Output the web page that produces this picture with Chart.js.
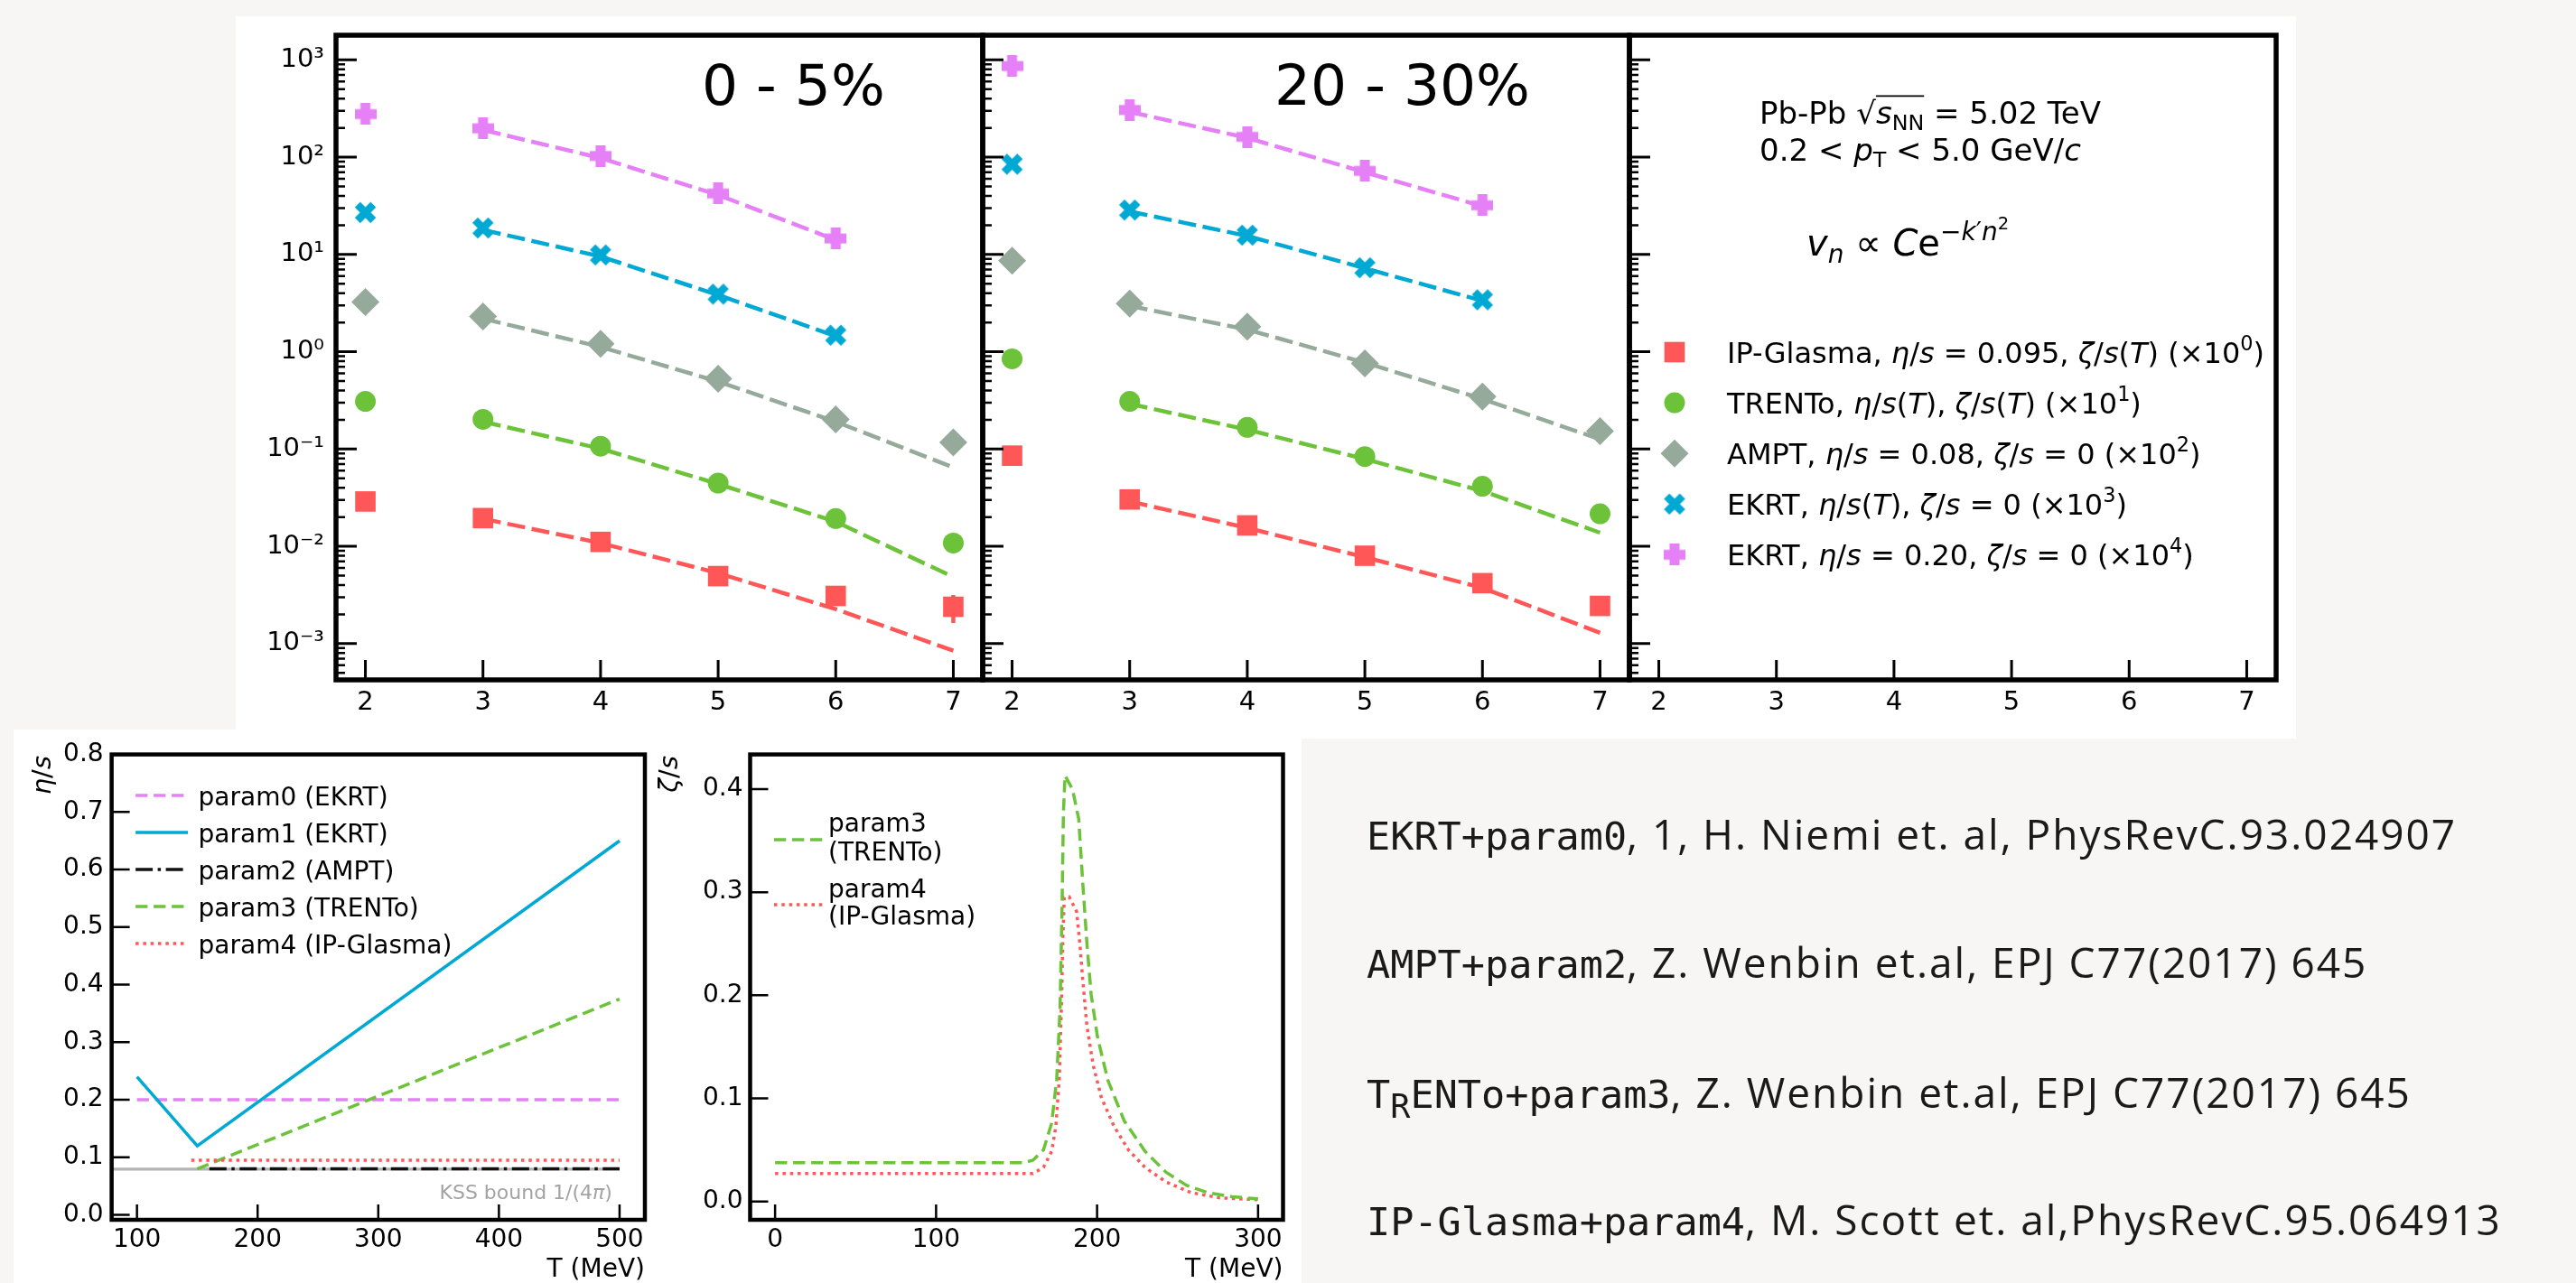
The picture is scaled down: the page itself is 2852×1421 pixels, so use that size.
<!DOCTYPE html>
<html>
<head>
<meta charset="UTF-8">
<title>vn vs n, eta/s and zeta/s</title>
<script src="https://cdn.jsdelivr.net/npm/chart.js"></script>
<style>
  body { margin: 0; width: 2852px; height: 1421px; background: #f7f6f4; position: relative; overflow: hidden; }
  .card { position: absolute; background: #fff; }
  canvas { position: absolute; left: 0; top: 0; }
  .ref { position: absolute; left: 1513px; font-family: 'Open Sans', sans-serif; font-size: 46px; line-height: 46px; letter-spacing: 2px; color: #1a1a1a; white-space: nowrap; }
  .ref code { font-family: 'DejaVu Sans Mono', monospace; font-size: 43.5px; letter-spacing: 0; }
  .ref sub { font-size: 0.85em; vertical-align: -0.3em; line-height: 0; }
</style>
</head>
<body>
<div class="card" style="left:261px; top:18px; width:2281px; height:800px"></div>
<div class="card" style="left:15px; top:808px; width:1426px; height:613px"></div>
<canvas id="p1" width="2852" height="1421"></canvas>
<canvas id="p2" width="2852" height="1421"></canvas>
<canvas id="p3" width="2852" height="1421"></canvas>
<canvas id="eta" width="2852" height="1421"></canvas>
<canvas id="zeta" width="2852" height="1421"></canvas>

<div class="ref" style="top:900px"><code>EKRT+param0</code>, 1, H. Niemi et. al, PhysRevC.93.024907</div>
<div class="ref" style="top:1042px"><code>AMPT+param2</code>, Z. Wenbin et.al, EPJ C77(2017) 645</div>
<div class="ref" style="top:1186px"><code>T<sub>R</sub>ENTo+param3</code>, Z. Wenbin et.al, EPJ C77(2017) 645</div>
<div class="ref" style="top:1327px"><code>IP-Glasma+param4</code>, M. Scott et. al,PhysRevC.95.064913</div>

<script>
// ---------- data: vn (scaled) vs harmonic n ----------
const harmonics = [2, 3, 4, 5, 6, 7];
const fitHarmonics = [3, 4, 5, 6, 7];
const xTicksTop = [2, 3, 4, 5, 6, 7];
const yDecades = [1e-3, 1e-2, 1e-1, 1e0, 1e1, 1e2, 1e3];
const yDecadeLabels = ['10⁻³', '10⁻²', '10⁻¹', '10⁰', '10¹', '10²', '10³'];

// 0 - 5 %
const ipg05 = [0.0289, 0.0195, 0.0111, 0.00494, 0.00309, 0.00239];
const trento05 = [0.309, 0.202, 0.107, 0.0447, 0.0193, 0.0108];
const ampt05 = [3.24, 2.31, 1.21, 0.528, 0.202, 0.117];
const ekrtT05 = [27.0, 18.7, 9.9, 3.91, 1.48];
const ekrt20_05 = [277, 198, 103, 42.3, 14.6];
const ipg05Fit = [0.0192, 0.0108, 0.0053, 0.00226, 0.000847];
const trento05Fit = [0.191, 0.101, 0.0437, 0.0179, 0.00484];
const ampt05Fit = [2.19, 1.12, 0.494, 0.191, 0.0647];
const ekrtT05Fit = [17.9, 9.55, 3.83, 1.45];
const ekrt20_05Fit = [191, 97.8, 40.9, 14.1];
const ipg05ErrN = [7];
const ipg05ErrLo = [0.00163];
const ipg05ErrHi = [0.00316];

// 20 - 30 %
const ipg2030 = [0.0855, 0.0303, 0.0164, 0.0080, 0.00418, 0.00244];
const trento2030 = [0.845, 0.309, 0.167, 0.0836, 0.0414, 0.0216];
const ampt2030 = [8.65, 3.13, 1.81, 0.757, 0.346, 0.153];
const ekrtT2030 = [84.6, 28.6, 15.8, 7.31, 3.42];
const ekrt20_2030 = [865, 306, 162, 72.3, 32.0];
const ipg2030Fit = [0.0289, 0.01545, 0.00773, 0.00374, 0.00129];
const trento2030Fit = [0.292, 0.158, 0.079, 0.037, 0.0138];
const ampt2030Fit = [2.96, 1.69, 0.773, 0.327, 0.126];
const ekrtT2030Fit = [27.7, 15.5, 7.22, 3.34];
const ekrt20_2030Fit = [292, 158, 70, 31.3];

const modelLabels = [
  'IP-Glasma, _η_/_s_ = 0.095, _ζ_/_s_(_T_) (×10^0$)',
  'TRENTo, _η_/_s_(_T_), _ζ_/_s_(_T_) (×10^1$)',
  'AMPT, _η_/_s_ = 0.08, _ζ_/_s_ = 0 (×10^2$)',
  'EKRT, _η_/_s_(_T_), _ζ_/_s_ = 0 (×10^3$)',
  'EKRT, _η_/_s_ = 0.20, _ζ_/_s_ = 0 (×10^4$)'
];

// ---------- data: eta/s(T) ----------
const etaXTicks = [100, 200, 300, 400, 500];
const etaYTicks = [0, 0.1, 0.2, 0.3, 0.4, 0.5, 0.6, 0.7, 0.8];
const etaT0 = [100, 500];      const etaParam0 = [0.2, 0.2];
const etaT1 = [100, 150, 500]; const etaParam1 = [0.24, 0.12, 0.65];
const etaT2 = [160, 500];      const etaParam2 = [0.08, 0.08];
const etaT3 = [150, 500];      const etaParam3 = [0.08, 0.375];
const etaT4 = [145, 500];      const etaParam4 = [0.095, 0.095];
const kssT = [79, 500];        const kssBound = [0.0796, 0.0796];

// ---------- data: zeta/s(T) ----------
const zetaXTicks = [0, 100, 200, 300];
const zetaYTicks = [0, 0.1, 0.2, 0.3, 0.4];
const zetaT3 = [0, 153.8, 160.2, 166.7, 171.8, 174.9, 177, 178.3, 179.1, 180.1, 184.7, 188.6, 191.1, 193.7, 196.3, 200.2, 206.6, 216.9, 229.8, 242.7, 255.6, 268.5, 283.9, 300];
const zetaParam3 = [0.0375, 0.0375, 0.040, 0.050, 0.076, 0.118, 0.187, 0.291, 0.378, 0.413, 0.400, 0.371, 0.309, 0.250, 0.201, 0.160, 0.118, 0.078, 0.0486, 0.0285, 0.0156, 0.0087, 0.0046, 0.0025];
const zetaT4 = [0, 160.2, 166.7, 171.8, 174.4, 176.5, 177.8, 178.8, 179.6, 182.7, 187.3, 189.3, 191.1, 193.7, 197.6, 202.7, 210.5, 219.5, 229.8, 242.7, 258.1, 276.1, 300];
const zetaParam4 = [0.027, 0.027, 0.033, 0.0486, 0.073, 0.118, 0.187, 0.257, 0.295, 0.2955, 0.281, 0.250, 0.215, 0.170, 0.132, 0.1006, 0.073, 0.050, 0.033, 0.019, 0.0087, 0.0035, 0.0017];

// ---------- setup ----------
const PAGE_W = 2852, PAGE_H = 1421;
const FONT = '"DejaVu Sans", sans-serif';
Chart.defaults.font.family = FONT;
Chart.defaults.color = '#000';

const RED = '#ff5757', GREEN = '#6cc33a', GRAY = '#95aa9b', CYAN = '#00a8d4', PINK = '#e580f6';

function makeMarker(kind, color, size) {
  const c = document.createElement('canvas');
  c.width = size; c.height = size;
  const g = c.getContext('2d');
  g.fillStyle = color; g.strokeStyle = color;
  if (kind === 'plus') {
    const w = size * 0.46, h = size / 2;
    g.fillRect(h - w / 2, 0, w, size);
    g.fillRect(0, h - w / 2, size, w);
  } else {
    const m = size * 0.15;
    g.lineWidth = size * 0.34;
    g.beginPath();
    g.moveTo(m, m); g.lineTo(size - m, size - m);
    g.moveTo(size - m, m); g.lineTo(m, size - m);
    g.stroke();
  }
  return c;
}

const models = [
  { color: RED, marker: 'rect', radius: 16 },
  { color: GREEN, marker: 'circle', radius: 11.5 },
  { color: GRAY, marker: 'rectRot', radius: 15.5 },
  { color: CYAN, marker: makeMarker('x', CYAN, 25), radius: 12 },
  { color: PINK, marker: makeMarker('plus', PINK, 24), radius: 12 }
];

// small mathtext-like renderer: _ italic, ^ up a level, $ down a level, ~ subscript, [ ] overline
function parseRich(str) {
  const out = [];
  let it = false, lvl = 0, sub = false, over = false, buf = '';
  const flush = () => { if (buf) out.push({ t: buf, it, lvl, sub, over }); buf = ''; };
  for (const ch of str) {
    if (ch === '_') { flush(); it = !it; }
    else if (ch === '^') { flush(); lvl++; }
    else if (ch === '$') { flush(); lvl--; }
    else if (ch === '~') { flush(); sub = !sub; }
    else if (ch === '[') { flush(); over = true; }
    else if (ch === ']') { flush(); over = false; }
    else buf += ch;
  }
  flush();
  return out;
}

function drawRich(ctx, str, x, y, size, align, color) {
  const segs = parseRich(str);
  let w = 0;
  segs.forEach(s => {
    s.sz = s.sub ? size * 0.7 : size * Math.pow(0.7, s.lvl);
    s.font = (s.it ? 'italic ' : '') + s.sz.toFixed(1) + 'px ' + FONT;
    ctx.font = s.font;
    s.w = ctx.measureText(s.t).width;
    w += s.w;
  });
  let cx = align === 'right' ? x - w : (align === 'center' ? x - w / 2 : x);
  let o0 = null, o1 = null;
  ctx.save();
  ctx.fillStyle = color || '#000';
  ctx.textBaseline = 'alphabetic';
  ctx.textAlign = 'left';
  segs.forEach(s => {
    let dy = s.sub ? size * 0.2 : 0;
    for (let k = 0; k < s.lvl; k++) dy -= size * Math.pow(0.7, k) * 0.42;
    ctx.font = s.font;
    ctx.fillText(s.t, cx, y + dy);
    if (s.over) { if (o0 === null) o0 = cx; o1 = cx + s.w; }
    cx += s.w;
  });
  if (o0 !== null) {
    ctx.strokeStyle = color || '#000';
    ctx.lineWidth = size * 0.05;
    ctx.beginPath();
    ctx.moveTo(o0, y - size * 0.9); ctx.lineTo(o1, y - size * 0.9);
    ctx.stroke();
  }
  ctx.restore();
  return w;
}

// frame + inward ticks, drawn through the chart's own scales
function framePlugin(o) {
  return {
    id: 'frame',
    afterDatasetsDraw(chart) {
      const { ctx, chartArea: a } = chart;
      const x = chart.scales.x, y = chart.scales.y;
      ctx.save();
      ctx.strokeStyle = '#000';
      ctx.lineWidth = o.tickWidth;
      ctx.beginPath();
      x.ticks.forEach(t => {
        const p = x.getPixelForValue(t.value);
        ctx.moveTo(p, a.bottom); ctx.lineTo(p, a.bottom - o.xLen);
      });
      y.ticks.forEach(t => {
        const p = y.getPixelForValue(t.value);
        ctx.moveTo(a.left, p); ctx.lineTo(a.left + o.yLen, p);
      });
      ctx.stroke();
      if (o.logMinor) {
        ctx.lineWidth = o.minorWidth;
        ctx.beginPath();
        for (let e = -4; e <= 3; e++) {
          for (let m = 2; m <= 9; m++) {
            const v = m * Math.pow(10, e);
            if (v < y.min || v > y.max) continue;
            const p = y.getPixelForValue(v);
            ctx.moveTo(a.left, p); ctx.lineTo(a.left + o.minorLen, p);
          }
        }
        ctx.stroke();
      }
      ctx.lineWidth = o.frameWidth;
      ctx.strokeRect(a.left, a.top, a.width, a.height);
      ctx.restore();
    }
  };
}

function errorBarPlugin(ns, lo, hi, color) {
  return {
    id: 'errbars',
    beforeDatasetsDraw(chart) {
      const { ctx } = chart;
      const x = chart.scales.x, y = chart.scales.y;
      ctx.save();
      ctx.strokeStyle = color;
      ctx.lineWidth = 4.5;
      ns.forEach((n, i) => {
        const px = x.getPixelForValue(n);
        ctx.beginPath();
        ctx.moveTo(px, y.getPixelForValue(lo[i]));
        ctx.lineTo(px, y.getPixelForValue(hi[i]));
        ctx.stroke();
      });
      ctx.restore();
    }
  };
}

function decorPlugin(fn) {
  return { id: 'decor', afterDraw(chart) { fn(chart, chart.ctx, chart.chartArea); } };
}

function baseOptions(area, yW, xH, xs, ys) {
  xs.afterFit = s => { s.height = xH; };
  ys.afterFit = s => { s.width = yW; };
  return {
    responsive: false,
    animation: false,
    devicePixelRatio: 1,
    events: [],
    layout: {
      autoPadding: false,
      padding: { left: area.l - yW, top: area.t, right: PAGE_W - area.r, bottom: PAGE_H - area.b - xH }
    },
    plugins: { legend: { display: false }, tooltip: { enabled: false } },
    scales: { x: xs, y: ys }
  };
}

function topX(show) {
  return {
    type: 'linear', position: 'bottom', min: 1.75, max: 7.25,
    grid: { display: false, drawTicks: false }, border: { display: false },
    afterBuildTicks: s => { s.ticks = xTicksTop.map(v => ({ value: v })); },
    ticks: { display: show, padding: 8, font: { size: 29 }, color: '#000', callback: v => String(v) }
  };
}

function topY(show) {
  return {
    type: 'logarithmic', position: 'left', min: Math.pow(10, -3.373), max: Math.pow(10, 3.254),
    grid: { display: false, drawTicks: false }, border: { display: false },
    afterBuildTicks: s => { s.ticks = yDecades.map(v => ({ value: v })); },
    ticks: {
      display: show, padding: 13, font: { size: 29 }, color: '#000', autoSkip: false,
      callback: v => {
        const i = yDecades.findIndex(d => Math.abs(Math.log10(d) - Math.log10(v)) < 1e-6);
        return i >= 0 ? yDecadeLabels[i] : '';
      }
    }
  };
}

function topDatasets(points, fits) {
  const ds = [];
  models.forEach((m, k) => {
    ds.push({
      data: points[k].map((v, i) => ({ x: harmonics[i], y: v })),
      showLine: false, pointStyle: m.marker, pointRadius: m.radius,
      pointBackgroundColor: m.color, pointBorderColor: m.color, pointBorderWidth: 0, order: 1
    });
    ds.push({
      data: fits[k].map((v, i) => ({ x: fitHarmonics[i], y: v })),
      showLine: true, borderColor: m.color, borderWidth: 4.5, borderDash: [20, 7.5],
      pointRadius: 0, order: 2
    });
  });
  return ds;
}

const topFrame = { tickWidth: 3, xLen: 22, yLen: 23, logMinor: true, minorWidth: 2.5, minorLen: 10, frameWidth: 5.5 };
const YW = 110, XH = 50;

// ---- panel 1: 0-5 % ----
new Chart(document.getElementById('p1'), {
  type: 'scatter',
  data: { datasets: topDatasets(
    [ipg05, trento05, ampt05, ekrtT05, ekrt20_05],
    [ipg05Fit, trento05Fit, ampt05Fit, ekrtT05Fit, ekrt20_05Fit]) },
  options: baseOptions({ l: 372, r: 1088, t: 39, b: 753 }, YW, XH, topX(true), topY(true)),
  plugins: [
    errorBarPlugin(ipg05ErrN, ipg05ErrLo, ipg05ErrHi, RED),
    framePlugin(topFrame),
    decorPlugin((chart, ctx, a) => drawRich(ctx, '0 - 5%', a.left + 405, a.top + 77, 63, 'left'))
  ]
});

// ---- panel 2: 20-30 % ----
new Chart(document.getElementById('p2'), {
  type: 'scatter',
  data: { datasets: topDatasets(
    [ipg2030, trento2030, ampt2030, ekrtT2030, ekrt20_2030],
    [ipg2030Fit, trento2030Fit, ampt2030Fit, ekrtT2030Fit, ekrt20_2030Fit]) },
  options: baseOptions({ l: 1088, r: 1804, t: 39, b: 753 }, YW, XH, topX(true), topY(false)),
  plugins: [
    framePlugin(topFrame),
    decorPlugin((chart, ctx, a) => drawRich(ctx, '20 - 30%', a.left + 323, a.top + 77, 63, 'left'))
  ]
});

// ---- panel 3: legend / system info ----
new Chart(document.getElementById('p3'), {
  type: 'scatter',
  data: { datasets: [] },
  options: baseOptions({ l: 1804, r: 2520, t: 39, b: 753 }, YW, XH, topX(true), topY(false)),
  plugins: [
    framePlugin(topFrame),
    decorPlugin((chart, ctx, a) => {
      drawRich(ctx, 'Pb-Pb √[_s_~NN~] = 5.02 TeV', a.left + 144, a.top + 98, 34, 'left');
      drawRich(ctx, '0.2 < _p_~T~ < 5.0 GeV/_c_', a.left + 144, a.top + 139, 34, 'left');
      drawRich(ctx, '_v_~_n_~ ∝ _C_e^−_k_′_n_^2$$', a.left + 196, a.top + 244, 40, 'left');
      models.forEach((m, k) => {
        const yc = a.top + 351 + 56.1 * k;
        ctx.save();
        ctx.fillStyle = m.color;
        ctx.strokeStyle = m.color;
        Chart.helpers.drawPoint(ctx, {
          pointStyle: m.marker, radius: m.radius, rotation: 0, borderWidth: 0
        }, a.left + 50, yc);
        ctx.restore();
        drawRich(ctx, modelLabels[k], a.left + 108, yc + 11.5, 32, 'left');
      });
    })
  ]
});

// ---- eta/s ----
const etaSeries = [
  { label: 'param0 (EKRT)', T: etaT0, v: etaParam0, color: PINK, dash: [13.3, 6.7], order: 6 },
  { label: 'param1 (EKRT)', T: etaT1, v: etaParam1, color: CYAN, dash: [], order: 5 },
  { label: 'param2 (AMPT)', T: etaT2, v: etaParam2, color: '#111', dash: [19, 5.5, 3.5, 5.5], order: 4 },
  { label: 'param3 (TRENTo)', T: etaT3, v: etaParam3, color: GREEN, dash: [13.3, 6.7], order: 3 },
  { label: 'param4 (IP-Glasma)', T: etaT4, v: etaParam4, color: RED, dash: [3.5, 4.8], order: 2 }
];
const etaDatasets = etaSeries.map(s => ({
  data: s.T.map((t, i) => ({ x: t, y: s.v[i] })),
  showLine: true, borderColor: s.color, borderWidth: 3.5, borderDash: s.dash, pointRadius: 0, order: s.order
}));
etaDatasets.push({
  data: kssT.map((t, i) => ({ x: t, y: kssBound[i] })),
  showLine: true, borderColor: '#b4b4b4', borderWidth: 3.3, pointRadius: 0, order: 10
});

const bottomFrame = { tickWidth: 2.5, xLen: 17, yLen: 20, logMinor: false, frameWidth: 4.5 };

function linAxis(min, max, tickVals, pad, fmt) {
  return {
    type: 'linear', min, max,
    grid: { display: false, drawTicks: false }, border: { display: false },
    afterBuildTicks: s => { s.ticks = tickVals.map(v => ({ value: v })); },
    ticks: { padding: pad, font: { size: 28 }, color: '#000', autoSkip: false, callback: fmt }
  };
}

function legendLines(ctx, a, items, lineX0, lineX1, textX) {
  items.forEach(it => {
    ctx.save();
    ctx.strokeStyle = it.color;
    ctx.lineWidth = 3.5;
    ctx.setLineDash(it.dash);
    ctx.beginPath();
    ctx.moveTo(a.left + lineX0, it.y); ctx.lineTo(a.left + lineX1, it.y);
    ctx.stroke();
    ctx.restore();
    it.text.forEach((t, j) => drawRich(ctx, t, a.left + textX, it.textY[j], 28, 'left'));
  });
}

new Chart(document.getElementById('eta'), {
  type: 'scatter',
  data: { datasets: etaDatasets },
  options: baseOptions({ l: 123.6, r: 714, t: 835.6, b: 1351 }, 80, 50,
    Object.assign(linAxis(79, 521, etaXTicks, 6, v => String(v)), { position: 'bottom' }),
    Object.assign(linAxis(-0.0085, 0.8, etaYTicks, 9, v => v.toFixed(1)), { position: 'left' })),
  plugins: [
    framePlugin(bottomFrame),
    decorPlugin((chart, ctx, a) => {
      const x = chart.scales.x, y = chart.scales.y;
      drawRich(ctx, 'KSS bound 1/(4_π_)', x.getPixelForValue(494), y.getPixelForValue(0.028), 22, 'right', '#a3a3a3');
      legendLines(ctx, a, etaSeries.map((s, k) => ({
        color: s.color, dash: s.dash, y: a.top + 45.4 + 41 * k, text: [s.label], textY: [a.top + 56.3 + 41 * k]
      })), 26.5, 84.5, 96);
      ctx.save();
      ctx.translate(56, 837);
      ctx.rotate(-Math.PI / 2);
      drawRich(ctx, '_η_/_s_', 0, 0, 29, 'right');
      ctx.restore();
      drawRich(ctx, 'T (MeV)', a.right, 1414, 28, 'right');
    })
  ]
});

// ---- zeta/s ----
const zetaSeries = [
  { lines: ['param3', '(TRENTo)'], T: zetaT3, v: zetaParam3, color: GREEN, dash: [13.3, 6.7] },
  { lines: ['param4', '(IP-Glasma)'], T: zetaT4, v: zetaParam4, color: RED, dash: [3.5, 4.8] }
];

new Chart(document.getElementById('zeta'), {
  type: 'scatter',
  data: { datasets: zetaSeries.map(s => ({
    data: s.T.map((t, i) => ({ x: t, y: s.v[i] })),
    showLine: true, borderColor: s.color, borderWidth: 3.5, borderDash: s.dash, pointRadius: 0
  })) },
  options: baseOptions({ l: 830.5, r: 1420.5, t: 835.6, b: 1351 }, 80, 50,
    Object.assign(linAxis(-15.5, 315.5, zetaXTicks, 6, v => String(v)), { position: 'bottom' }),
    Object.assign(linAxis(-0.0178, 0.4336, zetaYTicks, 8, v => v.toFixed(1)), { position: 'left' })),
  plugins: [
    framePlugin(bottomFrame),
    decorPlugin((chart, ctx, a) => {
      legendLines(ctx, a, [
        { color: zetaSeries[0].color, dash: zetaSeries[0].dash, y: 930, text: zetaSeries[0].lines, textY: [921, 952.5] },
        { color: zetaSeries[1].color, dash: zetaSeries[1].dash, y: 1002, text: zetaSeries[1].lines, textY: [994, 1024] }
      ], 26.5, 81.5, 86.5);
      ctx.save();
      ctx.translate(750, 837);
      ctx.rotate(-Math.PI / 2);
      drawRich(ctx, '_ζ_/_s_', 0, 0, 29, 'right');
      ctx.restore();
      drawRich(ctx, 'T (MeV)', a.right, 1414, 28, 'right');
    })
  ]
});
</script>
</body>
</html>
